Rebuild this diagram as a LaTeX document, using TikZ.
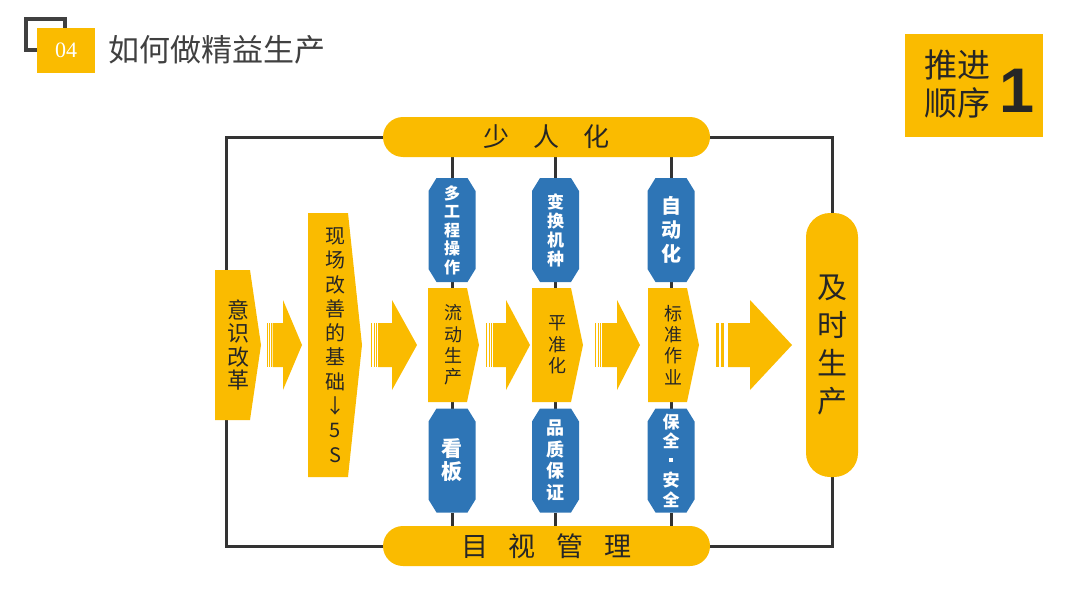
\documentclass[tikz,border=0pt]{standalone}
\usepackage{fontspec}
\newfontfamily\cjk{Noto Sans CJK SC}
\newfontfamily\lserif{Liberation Serif}
\newfontfamily\lsans{Liberation Sans}
\usetikzlibrary{calc,backgrounds}
\definecolor{yel}{RGB}{250,187,0}
\definecolor{blu}{RGB}{46,117,182}
\definecolor{ink}{RGB}{38,38,38}
\definecolor{lin}{RGB}{51,51,51}
\definecolor{ttl}{RGB}{64,64,64}
\begin{document}
\begin{tikzpicture}[x=1pt,y=-1pt,
  every node/.style={inner sep=0pt, outer sep=0pt},
  frame/.style={draw=lin, line width=3pt},
  link/.style={draw=lin, line width=3pt},
  bar/.style={fill=yel, rounded corners=20pt, minimum width=327pt, minimum height=40pt, text=ink},
  octo/.style={minimum width=47pt, minimum height=104pt, text=white, align=center,
    path picture={\fill[blu]
      ([xshift=8pt]path picture bounding box.north west) --
      ([xshift=-8pt]path picture bounding box.north east) --
      ([yshift=-13pt]path picture bounding box.north east) --
      ([yshift=13pt]path picture bounding box.south east) --
      ([xshift=-8pt]path picture bounding box.south east) --
      ([xshift=8pt]path picture bounding box.south west) --
      ([yshift=13pt]path picture bounding box.south west) --
      ([yshift=-13pt]path picture bounding box.north west) -- cycle;}},
  penta/.style={text=ink, align=center,
    path picture={\fill[yel]
      (path picture bounding box.north west) --
      ([xshift=-#1]path picture bounding box.north east) --
      (path picture bounding box.east) --
      ([xshift=-#1]path picture bounding box.south east) --
      (path picture bounding box.south west) -- cycle;}},
  arrthree/.style 2 args={minimum height=90pt,
    path picture={
      \fill[yel] ([xshift=#2,yshift=22pt]path picture bounding box.west) --
        ([xshift=-#1,yshift=22pt]path picture bounding box.east) --
        ([xshift=-#1]path picture bounding box.north east) --
        (path picture bounding box.east) --
        ([xshift=-#1]path picture bounding box.south east) --
        ([xshift=-#1,yshift=-22pt]path picture bounding box.east) --
        ([xshift=#2,yshift=-22pt]path picture bounding box.west) -- cycle;
      \fill[yel] ([yshift=22pt]path picture bounding box.west) rectangle ([xshift=0.2*#2,yshift=-22pt]path picture bounding box.west);
      \fill[yel] ([xshift=0.36*#2,yshift=22pt]path picture bounding box.west) rectangle ([xshift=0.56*#2,yshift=-22pt]path picture bounding box.west);
      \fill[yel] ([xshift=0.72*#2,yshift=22pt]path picture bounding box.west) rectangle ([xshift=0.9*#2,yshift=-22pt]path picture bounding box.west);}},
  arrtwo/.style 2 args={minimum height=90pt,
    path picture={
      \fill[yel] ([xshift=#2,yshift=22pt]path picture bounding box.west) --
        ([xshift=-#1,yshift=22pt]path picture bounding box.east) --
        ([xshift=-#1]path picture bounding box.north east) --
        (path picture bounding box.east) --
        ([xshift=-#1]path picture bounding box.south east) --
        ([xshift=-#1,yshift=-22pt]path picture bounding box.east) --
        ([xshift=#2,yshift=-22pt]path picture bounding box.west) -- cycle;
      \fill[yel] ([yshift=22pt]path picture bounding box.west) rectangle ([xshift=0.25*#2,yshift=-22pt]path picture bounding box.west);
      \fill[yel] ([xshift=0.42*#2,yshift=22pt]path picture bounding box.west) rectangle ([xshift=0.67*#2,yshift=-22pt]path picture bounding box.west);}}
]
\useasboundingbox (0,0) rectangle (1080,608);

% title
\draw[draw=ttl, line width=4pt] (26,19) rectangle (65,50);
\node[fill=yel, minimum width=58pt, minimum height=45pt, text=white,
  font=\lserif\fontsize{22pt}{22pt}\selectfont] (num) at (66,50.5) {04};
\node[anchor=west, text=ttl, font=\cjk\fontsize{31pt}{31pt}\selectfont] (title) at (108,50) {如何做精益生产};

% badge
\node[fill=yel, minimum width=138pt, minimum height=103pt] (badge) at (974,85.5) {};
\node[text=ink, align=center, font=\cjk\fontsize{33pt}{38pt}\selectfont] (tj) at (957,84) {推进\\顺序};
\node[text=ink, font=\lsans\bfseries\fontsize{63pt}{63pt}\selectfont] (one) at (1017,91) {1};

% bars
\node[bar, font=\cjk\fontsize{26pt}{30pt}\selectfont] (shao) at (546.5,137) {少\hspace{24pt}人\hspace{24pt}化};
\node[bar, font=\cjk\fontsize{27pt}{30pt}\selectfont] (mushi) at (546.5,546) {目\hspace{21pt}视\hspace{21pt}管\hspace{21pt}理};

% octagons
\node[octo, font=\cjk\bfseries\fontsize{16pt}{18.5pt}\selectfont] (o1) at (452,230) {多\\工\\程\\操\\作};
\node[octo, font=\cjk\bfseries\fontsize{17pt}{19pt}\selectfont] (o2) at (555.5,230) {变\\换\\机\\种};
\node[octo, font=\cjk\bfseries\fontsize{20pt}{24pt}\selectfont] (o3) at (671,230) {自\\动\\化};
\node[octo, font=\cjk\bfseries\fontsize{21pt}{23pt}\selectfont] (o4) at (452,460.5) {看\\板};
\node[octo, font=\cjk\bfseries\fontsize{18pt}{21.7pt}\selectfont] (o5) at (555.5,460.5) {品\\质\\保\\证};
\node[octo, font=\cjk\bfseries\fontsize{17pt}{19.5pt}\selectfont] (o6) at (671,460.5) {保\\全\\\raisebox{5pt}{\rule{4pt}{4pt}}\\安\\全};

% pentagons
\node[penta=11pt, minimum width=46pt, minimum height=150pt, font=\cjk\fontsize{22pt}{23.5pt}\selectfont] (yishi) at (238,345) {意\\识\\改\\革};
\node[penta=14pt, minimum width=54pt, minimum height=264pt, font=\cjk\fontsize{20pt}{24.3pt}\selectfont] (xc) at (335,345) {现\\场\\改\\善\\的\\基\\础\\↓\\5\\S};
\node[penta=12pt, minimum width=51pt, minimum height=114pt, font=\cjk\fontsize{18pt}{21.3pt}\selectfont] (p1) at (453.5,345) {流\\动\\生\\产};
\node[penta=12pt, minimum width=51pt, minimum height=114pt, font=\cjk\fontsize{18pt}{21.5pt}\selectfont] (p2) at (557.5,345) {平\\准\\化};
\node[penta=12pt, minimum width=51pt, minimum height=114pt, font=\cjk\fontsize{18pt}{21.3pt}\selectfont] (p3) at (673.5,345) {标\\准\\作\\业};

% goal
\node[fill=yel, rounded corners=24pt, minimum width=52pt, minimum height=264pt, align=center, text=ink,
  font=\cjk\fontsize{30pt}{38pt}\selectfont] (jishi) at (832,345) {及\\时\\生\\产};

% arrows
\node[arrthree={19pt}{5.5pt}, minimum width=35pt] (a1) at (284.5,345) {};
\node[arrthree={25pt}{7pt}, minimum width=46pt] (a2) at (394,345) {};
\node[arrthree={24pt}{7pt}, minimum width=44pt] (a3) at (508,345) {};
\node[arrthree={23pt}{7pt}, minimum width=45pt] (a4) at (617.5,345) {};
\node[arrtwo={42pt}{12pt}, minimum width=76pt] (a5) at (754,345) {};

% connectors
\coordinate (tl) at (226.5,137);
\coordinate (bl) at (226.5,546);
\begin{scope}[on background layer]
\draw[frame] (shao.west) -- (tl) -- (tl |- yishi.north);
\draw[frame] (mushi.west) -- (bl) -- (bl |- yishi.south);
\draw[frame] (shao.east) -| (jishi.north);
\draw[frame] (mushi.east) -| (jishi.south);
\foreach \t/\m/\b in {o1/p1/o4, o2/p2/o5, o3/p3/o6}{
  \draw[link] (\t.north |- shao.south) -- (\t.north);
  \draw[link] (\t.south) -- (\t.south |- \m.north);
  \draw[link] (\b.north |- \m.south) -- (\b.north);
  \draw[link] (\b.south) -- (\b.south |- mushi.north);
}
\end{scope}
\end{tikzpicture}
\end{document}
